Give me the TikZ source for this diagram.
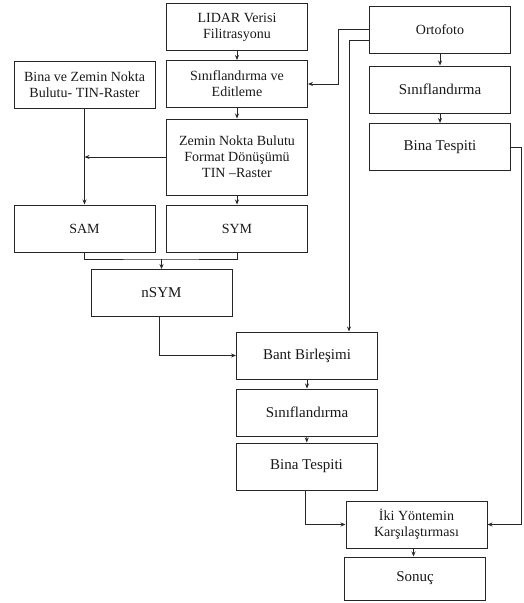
\documentclass[tikz,border=0pt]{standalone}
\usepackage{fontspec}
\setmainfont{Liberation Serif}
\usetikzlibrary{arrows.meta}
\begin{document}
\begin{tikzpicture}[x=1pt,y=-1pt,
  box/.style={draw=black!85, line width=1pt, minimum width=141pt, minimum height=47pt,
    align=center, inner sep=2pt, text=black!90, font=\fontsize{14}{16}\selectfont},
  big/.style={font=\fontsize{15}{17}\selectfont},
  ln/.style={draw=black!85, line width=0.9pt},
  arr/.style={ln, -{Stealth[length=5pt,width=4pt]}}]
\useasboundingbox (0,0) rectangle (523,603);
% left / middle column
\node[box] (lidar) at (237,27) {LIDAR Verisi\\Filitrasyonu};
\node[box] (edit) at (237,84) {Sınıflandırma ve\\Editleme};
\node[box, minimum height=76pt] (zemin) at (237,157) {Zemin Nokta Bulutu\\Format Dönüşümü\\TIN –Raster};
\node[box] (bina) at (84.5,84.5) {Bina ve Zemin Nokta\\Bulutu- TIN-Raster};
\node[box] (sam) at (84.5,228.5) {SAM};
\node[box] (sym) at (237,228.5) {SYM};
\node[box, big] (nsym) at (161.5,293) {nSYM};
% right column
\node[box] (orto) at (440,29.5) {Ortofoto};
\node[box, big] (sinR) at (440,89.5) {Sınıflandırma};
\node[box, big] (tespR) at (440,147) {Bina Tespiti};
% lower
\node[box, big] (bant) at (307,355.5) {Bant Birleşimi};
\node[box, big] (sinL) at (307,412.5) {Sınıflandırma};
\node[box, big] (tespL) at (306.5,466.5) {Bina Tespiti};
\node[box] (iki) at (416.5,524.5) {İki Yöntemin\\Karşılaştırması};
\node[box, big, minimum height=43pt] (sonuc) at (415,578.5) {Sonuç};
% connectors
\draw[arr] (lidar) -- (edit);
\draw[arr] (edit) -- (zemin);
\draw[arr] (zemin) -- (sym);
\draw[arr] (orto) -- (sinR);
\draw[arr] (sinR) -- (tespR);
\draw[arr] (orto.west) -- ++(-31,0) |- (edit.east);
\draw[arr] ([yshift=-10.5pt]orto.west) -| ([xshift=42pt]bant.north);
\coordinate (rc) at (521,147);
\draw[arr] (tespR.east) -- (rc) |- (iki.east);
\draw[arr] (bina) -- (sam);
\draw[arr] (zemin.west) -- (bina.south |- zemin.west);
\coordinate (j) at (161.5,259);
\draw[ln] (sam.south) |- (j) -| (sym.south);
\draw[arr] (j) -- (nsym.north);
\draw[arr] ([xshift=-2.5pt]nsym.south) |- (bant.west);
\draw[arr] (bant) -- (sinL);
\draw[arr] (sinL) -- (tespL);
\draw[arr] ([xshift=-1.5pt]tespL.south) |- (iki.west);
\draw[arr] ([xshift=-3pt]iki.south) -- ([xshift=-1.5pt]sonuc.north);
\end{tikzpicture}
\end{document}
